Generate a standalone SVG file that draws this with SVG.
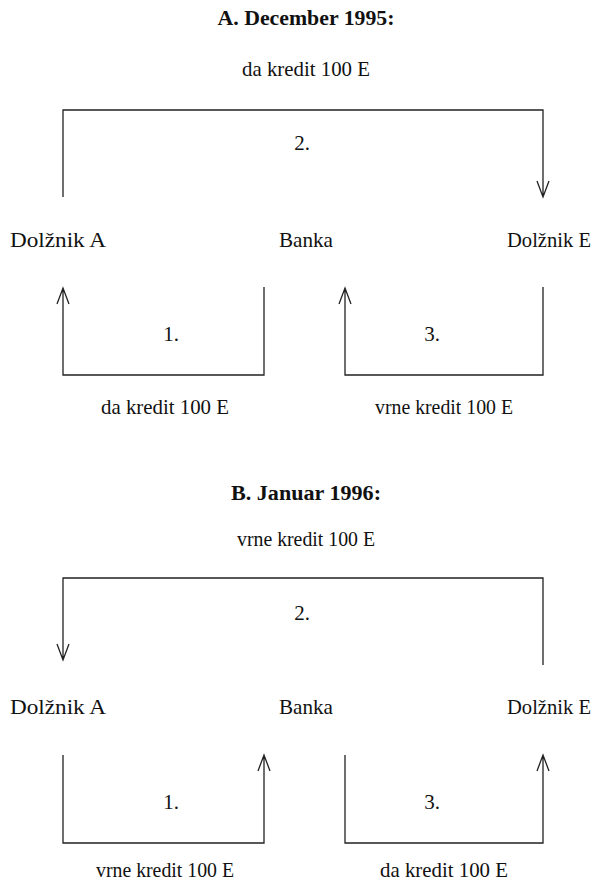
<svg xmlns="http://www.w3.org/2000/svg" width="594" height="883" viewBox="0 0 594 883">
<style>
text{font-family:"Liberation Serif","Times New Roman",serif;font-size:21px;fill:#111;text-anchor:middle}
.t{font-weight:bold;font-size:20px}
.c{fill:none;stroke:#222;stroke-width:1.3}
</style>
<rect width="594" height="883" fill="#fff"/>
<g id="sectionA">
<text class="t" x="306" y="25" textLength="177" lengthAdjust="spacingAndGlyphs">A. December 1995:</text>
<text x="306" y="76" textLength="128" lengthAdjust="spacingAndGlyphs">da kredit 100 E</text>
<text x="302" y="150">2.</text>
<text x="171" y="341">1.</text>
<text x="432" y="341">3.</text>
<text x="165" y="414" textLength="128" lengthAdjust="spacingAndGlyphs">da kredit 100 E</text>
<text x="444" y="414" textLength="138" lengthAdjust="spacingAndGlyphs">vrne kredit 100 E</text>
</g>
<g id="nodeA1"><text x="58" y="247" textLength="96" lengthAdjust="spacingAndGlyphs">Dolžnik A</text></g>
<g id="bankA"><text x="306" y="247" textLength="54" lengthAdjust="spacingAndGlyphs">Banka</text></g>
<g id="nodeE1"><text x="549" y="247" textLength="84" lengthAdjust="spacingAndGlyphs">Dolžnik E</text></g>
<g id="sectionB">
<text class="t" x="306" y="500" textLength="150" lengthAdjust="spacingAndGlyphs">B. Januar 1996:</text>
<text x="306" y="546" textLength="138" lengthAdjust="spacingAndGlyphs">vrne kredit 100 E</text>
<text x="302" y="620">2.</text>
<text x="171" y="809">1.</text>
<text x="432" y="809">3.</text>
<text x="165" y="877" textLength="138" lengthAdjust="spacingAndGlyphs">vrne kredit 100 E</text>
<text x="444" y="877" textLength="128" lengthAdjust="spacingAndGlyphs">da kredit 100 E</text>
</g>
<g id="nodeA2"><text x="58" y="714" textLength="96" lengthAdjust="spacingAndGlyphs">Dolžnik A</text></g>
<g id="bankB"><text x="306" y="714" textLength="54" lengthAdjust="spacingAndGlyphs">Banka</text></g>
<g id="nodeE2"><text x="549" y="714" textLength="84" lengthAdjust="spacingAndGlyphs">Dolžnik E</text></g>
<g id="connectors" class="c">
<path d="M63,197 V110 H543 V197 M537,181 L543,197 L549,181"/>
<path d="M63,288 V375 H264 V287 M57,304 L63,288 L69,304"/>
<path d="M345,288 V375 H543 V287 M339,304 L345,288 L351,304"/>
<path d="M543,665 V578 H63 V660 M57,644 L63,660 L69,644"/>
<path d="M63,755 V843 H264 V755 M258,771 L264,755 L270,771"/>
<path d="M345,755 V843 H543 V755 M537,771 L543,755 L549,771"/>
</g>
</svg>
